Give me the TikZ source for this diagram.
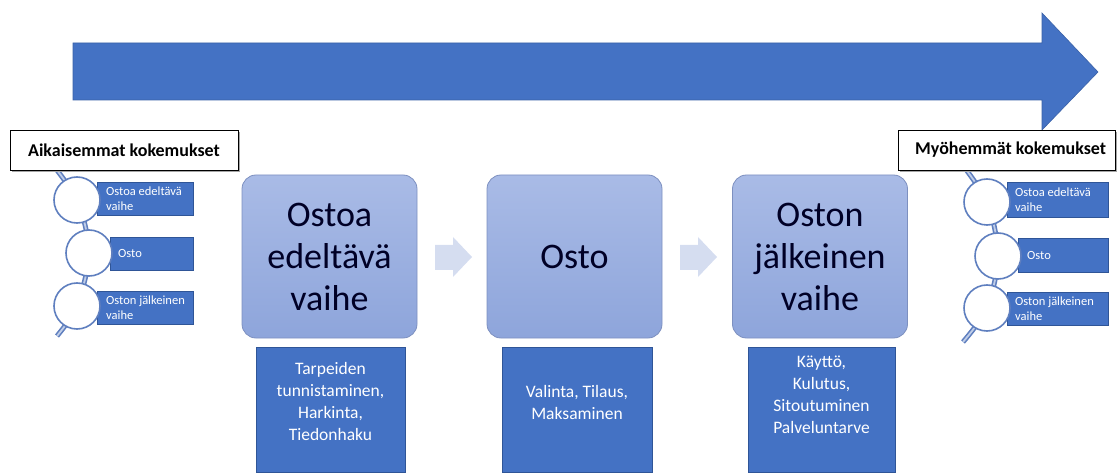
\documentclass[tikz,border=0pt]{standalone}
\usepackage{fontspec}
\setmainfont{Carlito}
\usetikzlibrary{positioning}
\definecolor{mainblue}{HTML}{4472C4}
\definecolor{darkborder}{HTML}{2F5597}
\definecolor{uppertop}{HTML}{A9BBE6}
\definecolor{upperbot}{HTML}{8EA5DB}
\definecolor{upperborder}{HTML}{7D90C0}
\definecolor{chevcol}{HTML}{D5DDF0}
\definecolor{ringcol}{HTML}{5F7FBF}
\definecolor{ringinner}{HTML}{BFCDE8}
\tikzset{
  stagebox/.style={rectangle, rounded corners=14pt, draw=upperborder, line width=0.8pt,
    top color=uppertop, bottom color=upperbot, minimum width=175pt, minimum height=163pt,
    inner sep=0pt, align=center, text=black!85!blue,
    font=\fontsize{36}{42}\selectfont},
  detailbox/.style={rectangle, fill=mainblue, draw=darkborder, line width=0.6pt,
    minimum height=125pt, inner sep=0pt},
  detailtext/.style={anchor=north, align=center, text=white, inner sep=0pt,
    font=\fontsize{17.5}{22}\selectfont},
  listrect/.style={rectangle, fill=mainblue, draw=darkborder, line width=0.4pt, inner sep=0pt},
  listtext/.style={anchor=west, align=left, text=white, inner sep=0pt,
    font=\fontsize{12.5}{14.5}\selectfont},
  ring/.style={circle, fill=white, draw=ringcol, line width=1.6pt, minimum size=46pt, inner sep=0pt},
  headbox/.style={rectangle, fill=white, draw=black, line width=0.9pt, inner sep=0pt,
    minimum height=40pt, font=\bfseries\fontsize{18}{20}\selectfont},
  chev/.style={fill=chevcol, draw=none},
  bigarrow/.style={fill=mainblue, draw=mainblue!85!black, line width=0.6pt},
  curveouter/.style={draw=ringcol, line width=5pt},
  curveinner/.style={draw=ringinner, line width=1.8pt},
}
\begin{document}
\begin{tikzpicture}[x=1pt,y=-1pt]
\useasboundingbox (0,0) rectangle (1117,473);

% big arrow
\draw[bigarrow] (73,43) -- (1042,43) -- (1042,13) -- (1098,72) -- (1042,130) -- (1042,100) -- (73,100) -- cycle;

% left list curve
\draw[curveouter] plot[smooth] coordinates {(45,155) (77,200) (89,253) (77,306) (57,336)};
\draw[curveinner] plot[smooth] coordinates {(45,155) (77,200) (89,253) (77,306) (57,336)};
% right list curve
\draw[curveouter] plot[smooth] coordinates {(955,155) (987,202) (998,256) (987,308) (963,342)};
\draw[curveinner] plot[smooth] coordinates {(955,155) (987,202) (998,256) (987,308) (963,342)};

% left list
\node[listrect, minimum width=96pt, minimum height=33pt] (l1) at (145,198.5) {};
\node[listrect, minimum width=83pt, minimum height=33pt] (l2) at (151.5,253.5) {};
\node[listrect, minimum width=96pt, minimum height=33pt] (l3) at (145,307.5) {};
\node[ring] (lc1) at (77,200) {};
\node[ring] (lc2) at (89,253) {};
\node[ring] (lc3) at (77,306) {};
\node[listtext] (l1t) at (106,198.5) {Ostoa edeltävä\\vaihe};
\node[listtext] (l2t) at (118,253.5) {Osto};
\node[listtext] (l3t) at (106,307.5) {Oston jälkeinen\\vaihe};

% right list
\node[listrect, minimum width=101pt, minimum height=35pt] (r1) at (1057.5,199.5) {};
\node[listrect, minimum width=90pt, minimum height=34pt] (r2) at (1063,255) {};
\node[listrect, minimum width=101pt, minimum height=33pt] (r3) at (1057.5,308.5) {};
\node[ring] (rc1) at (987,202) {};
\node[ring] (rc2) at (998,256) {};
\node[ring] (rc3) at (987,308) {};
\node[listtext] (r1t) at (1015,199.5) {Ostoa edeltävä\\vaihe};
\node[listtext] (r2t) at (1027,255) {Osto};
\node[listtext] (r3t) at (1015,308.5) {Oston jälkeinen\\vaihe};

% header boxes
\fill[black!35] (12,132) rectangle (240,172);
\node[headbox, minimum width=228pt] (hl) at (124,150) {Aikaisemmat kokemukset};
\fill[black!35] (900,132) rectangle (1117,172);
\node[headbox, minimum width=217pt] (hr) at (1006.5,150) {};
\node[anchor=west, inner sep=0pt, font=\bfseries\fontsize{18}{20}\selectfont] (hrt) at (915,150) {Myöhemmät kokemukset};

% stage boxes
\node[stagebox] (s1) at (329.5,256.5) {Ostoa\\edeltävä\\vaihe};
\node[stagebox] (s2) at (574.5,256.5) {Osto};
\node[stagebox] (s3) at (820,256.5) {Oston\\jälkeinen\\vaihe};

% chevrons
\fill[chev] (435,245) -- (453,245) -- (453,237) -- (472,257) -- (453,277) -- (453,270) -- (435,270) -- cycle;
\fill[chev] (680,245) -- (698,245) -- (698,237) -- (717,257) -- (698,277) -- (698,270) -- (680,270) -- cycle;

% detail boxes
\node[detailbox, minimum width=149pt] (d1) at (330.5,409.5) {};
\node[detailbox, minimum width=150pt] (d2) at (577,409.5) {};
\node[detailbox, minimum width=147pt] (d3) at (821.5,409.5) {};
\node[detailtext] (d1t) at (330.5,358.5) {\strut Tarpeiden\\tunnistaminen,\\Harkinta,\\Tiedonhaku};
\node[detailtext] (d2t) at (577,381.5) {\strut Valinta, Tilaus,\\Maksaminen};
\node[detailtext] (d3t) at (821.5,352) {\strut Käyttö,\\Kulutus,\\Sitoutuminen\\Palveluntarve};
\end{tikzpicture}
\end{document}
